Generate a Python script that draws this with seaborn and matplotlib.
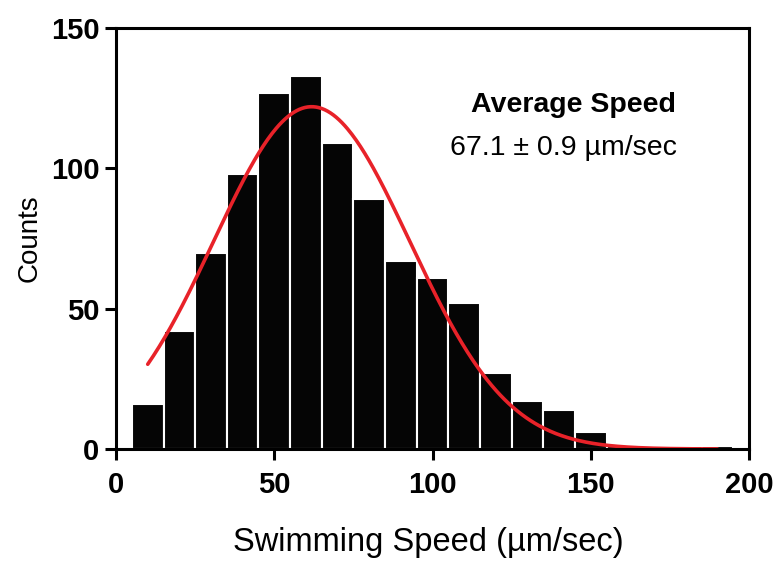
import numpy as np
import pandas as pd
import matplotlib
matplotlib.use("Agg")
import matplotlib.pyplot as plt
import seaborn as sns

# ---- data ----
bin_centers = [10, 20, 30, 40, 50, 60, 70, 80, 90, 100,
               110, 120, 130, 140, 150, 160, 170, 180, 190]
counts = [16, 42, 70, 98, 127, 133, 109, 89, 67, 61,
          52, 27, 17, 14, 6, 1, 1, 1, 1]
bin_width = 10

# Gaussian fit parameters (red curve)
fit_amplitude = 122.0
fit_mean = 61.8
fit_sd = 31.0
fit_start, fit_end = 10, 190

x_ticks = [0, 50, 100, 150, 200]
y_ticks = [0, 50, 100, 150]
annot_title = "Average Speed"
annot_value = "67.1 \u00b1 0.9 \u00b5m/sec"
x_label = "Swimming Speed (\u00b5m/sec)"
y_label = "Counts"

# ---- styling ----
sns.set_style("ticks")
plt.rcParams["font.family"] = ["Liberation Sans", "DejaVu Sans"]
plt.rcParams["text.color"] = "black"
plt.rcParams["axes.labelcolor"] = "black"

fig = plt.figure(figsize=(7.79, 5.63), dpi=100)
ax = fig.add_axes([0.149, 0.2025, 0.8125, 0.7475])

df = pd.DataFrame({"speed": bin_centers, "count": counts})
sns.histplot(data=df, x="speed", weights="count", binwidth=bin_width,
             binrange=(bin_centers[0] - bin_width / 2, bin_centers[-1] + bin_width / 2),
             ax=ax, color="#050505", alpha=1, edgecolor="white", linewidth=1.5)

xs = np.linspace(fit_start, fit_end, 400)
fit_df = pd.DataFrame({"x": xs,
                       "y": fit_amplitude * np.exp(-0.5 * ((xs - fit_mean) / fit_sd) ** 2)})
sns.lineplot(data=fit_df, x="x", y="y", ax=ax, color="#e82229", linewidth=2.6)

ax.set_xlim(0, 200)
ax.set_ylim(0, 150)
ax.set_xticks(x_ticks)
ax.set_yticks(y_ticks)

for s in ax.spines.values():
    s.set_linewidth(2.2)
    s.set_color("black")
ax.tick_params(axis="both", width=2.2, length=8, color="black",
               labelsize=21, labelcolor="black")
ax.tick_params(axis="x", pad=8)
ax.tick_params(axis="y", pad=4)
for lab in ax.get_xticklabels() + ax.get_yticklabels():
    lab.set_fontweight("bold")

ax.set_xlabel(x_label, fontsize=23.5)
ax.xaxis.label.set_va("center")
ax.xaxis.set_label_coords(0.494, -0.222)
ax.set_ylabel(y_label, fontsize=20, labelpad=6)

ax.text(144.4, 122.5, annot_title, fontsize=20.5, fontweight="bold",
        ha="center", va="center")
ax.text(141.5, 107.4, annot_value, fontsize=20.5, ha="center", va="center")

fig.savefig("out.png", dpi=100)
